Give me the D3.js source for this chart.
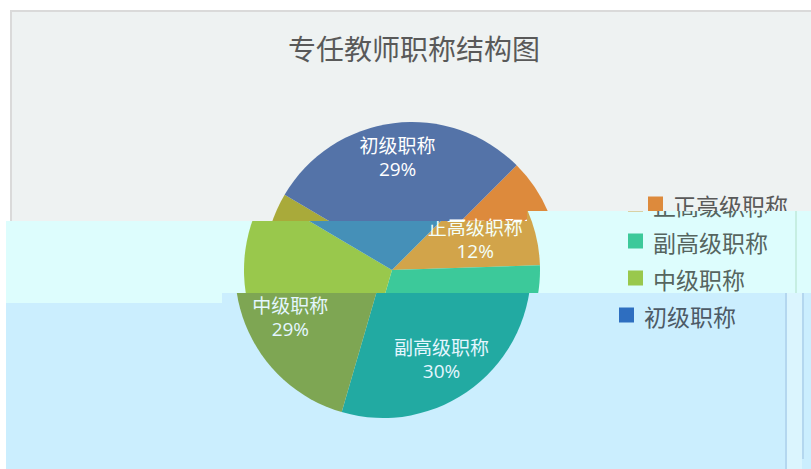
<!DOCTYPE html>
<html>
<head>
<meta charset="utf-8">
<script src="https://cdn.jsdelivr.net/npm/d3@7"></script>
<style>
  body { margin: 0; background: #fff; }
  svg { display: block; }
</style>
</head>
<body>
<svg></svg>
<script>
// data
const title = "专任教师职称结构图";
const categories = ["正高级职称", "副高级职称", "中级职称", "初级职称"];
const values = [12, 30, 29, 29];

const W = 811, H = 469;
const svg = d3.select("svg").attr("width", W).attr("height", H);

// the screenshot is made of three horizontally shifted strips, each tinted differently
const bands = [
  {
    shift: 20,
    clip: null,
    bg: "#eef2f2",
    slices: ["#dd8a3c", "#3fa58f", "#a9aa3a", "#5473a8"],
    text: "#595959",
    label: "#ffffff"
  },
  {
    shift: 0,
    clip: [[6, 221], [527, 221], [527, 211], [811, 211], [811, 293], [222, 293], [222, 303], [6, 303]],
    bg: "#ddfdfd",
    slices: ["#d2a44a", "#3cc99a", "#99c84c", "#4590b8"],
    text: "#56655f",
    label: "#f4fff8"
  },
  {
    shift: -9,
    clip: [[6, 303], [222, 303], [222, 293], [811, 293], [811, 469], [6, 469]],
    bg: "#cbeefe",
    slices: ["#e28a30", "#22aaa2", "#7ea653", "#2e6ec0"],
    text: "#4d5a66",
    label: "#e4f6ff"
  }
];

const cx = 392, cy = 270, r = 148;
const start = 45 * Math.PI / 180;

const pie = d3.pie().sort(null).startAngle(start).endAngle(start + 2 * Math.PI);
const arcs = pie(values);
const arc = d3.arc().innerRadius(0).outerRadius(r);
const total = d3.sum(values);
// labels sit "inside end": the label box is pushed out until it nearly touches the rim
const labelReach = 144;

const legendY = d3.scaleBand().domain(categories).range([186, 334]);

const defs = svg.append("defs");

function drawChart(g, b) {
  // title
  g.append("text")
    .attr("x", cx + 2)
    .attr("y", 48)
    .attr("text-anchor", "middle")
    .attr("dominant-baseline", "central")
    .attr("font-family", "'Noto Sans CJK SC', sans-serif")
    .attr("font-size", 28)
    .attr("fill", b.text)
    .text(title);

  const pg = g.append("g").attr("transform", `translate(${cx},${cy})`);

  pg.selectAll("path")
    .data(arcs)
    .join("path")
    .attr("d", arc)
    .attr("fill", (d, i) => b.slices[i]);

  const lab = pg.selectAll("text")
    .data(arcs)
    .join("text")
    .attr("text-anchor", "middle")
    .attr("font-family", "'Open Sans', 'Noto Sans CJK SC', sans-serif")
    .attr("font-size", 19)
    .attr("fill", b.label);
  lab.append("tspan")
    .attr("x", 0)
    .attr("y", -4)
    .text((d, i) => categories[i]);
  lab.append("tspan")
    .attr("x", 0)
    .attr("y", 19)
    .text(d => Math.round(d.data / total * 100) + "%");

  lab.attr("transform", function(d) {
    const bb = this.getBBox();
    const a = (d.startAngle + d.endAngle) / 2;
    const s = Math.sin(a), c = Math.cos(a);
    const dist = labelReach - Math.abs(s) * bb.width / 2 - Math.abs(c) * bb.height / 2;
    return `translate(${dist * s},${-dist * c + 8 - 7 * c})`;
  });

  // legend
  const lg = g.append("g").attr("transform", "translate(628,0)");
  const item = lg.selectAll("g")
    .data(categories)
    .join("g")
    .attr("transform", d => `translate(0,${legendY(d) + legendY.bandwidth() / 2})`);
  item.append("rect")
    .attr("x", 0)
    .attr("y", -8)
    .attr("width", 15)
    .attr("height", 15)
    .attr("fill", (d, i) => b.slices[i]);
  item.append("text")
    .attr("x", 25)
    .attr("y", 0)
    .attr("dominant-baseline", "central")
    .attr("font-family", "'Noto Sans CJK SC', sans-serif")
    .attr("font-size", 23)
    .attr("fill", b.text)
    .text(d => d);
}

bands.forEach((b, i) => {
  const outer = svg.append("g");
  if (b.clip) {
    defs.append("clipPath")
      .attr("id", "band" + i)
      .append("polygon")
      .attr("points", b.clip.map(p => p.join(",")).join(" "));
    outer.attr("clip-path", `url(#band${i})`);
    outer.append("rect")
      .attr("x", 0).attr("y", 0).attr("width", W).attr("height", H)
      .attr("fill", b.bg);
  } else {
    // chart area of the first strip, with its light frame
    outer.append("rect")
      .attr("x", 11).attr("y", 11).attr("width", W).attr("height", H)
      .attr("fill", b.bg)
      .attr("stroke", "#dadada")
      .attr("stroke-width", 2);
  }
  drawChart(outer.append("g").attr("transform", `translate(${b.shift},0)`), b);
});

// window edges that show through the lower strips
svg.append("rect").attr("x", 795).attr("y", 211).attr("width", 2).attr("height", 82).attr("fill", "#c6eee2");
svg.append("rect").attr("x", 787).attr("y", 293).attr("width", 15).attr("height", 176).attr("fill", "#dbf5fe");
svg.append("rect").attr("x", 785).attr("y", 293).attr("width", 2).attr("height", 176).attr("fill", "#b4d7ef");
svg.append("rect").attr("x", 802).attr("y", 293).attr("width", 2).attr("height", 166).attr("fill", "#b4d7ef");
</script>
</body>
</html>
